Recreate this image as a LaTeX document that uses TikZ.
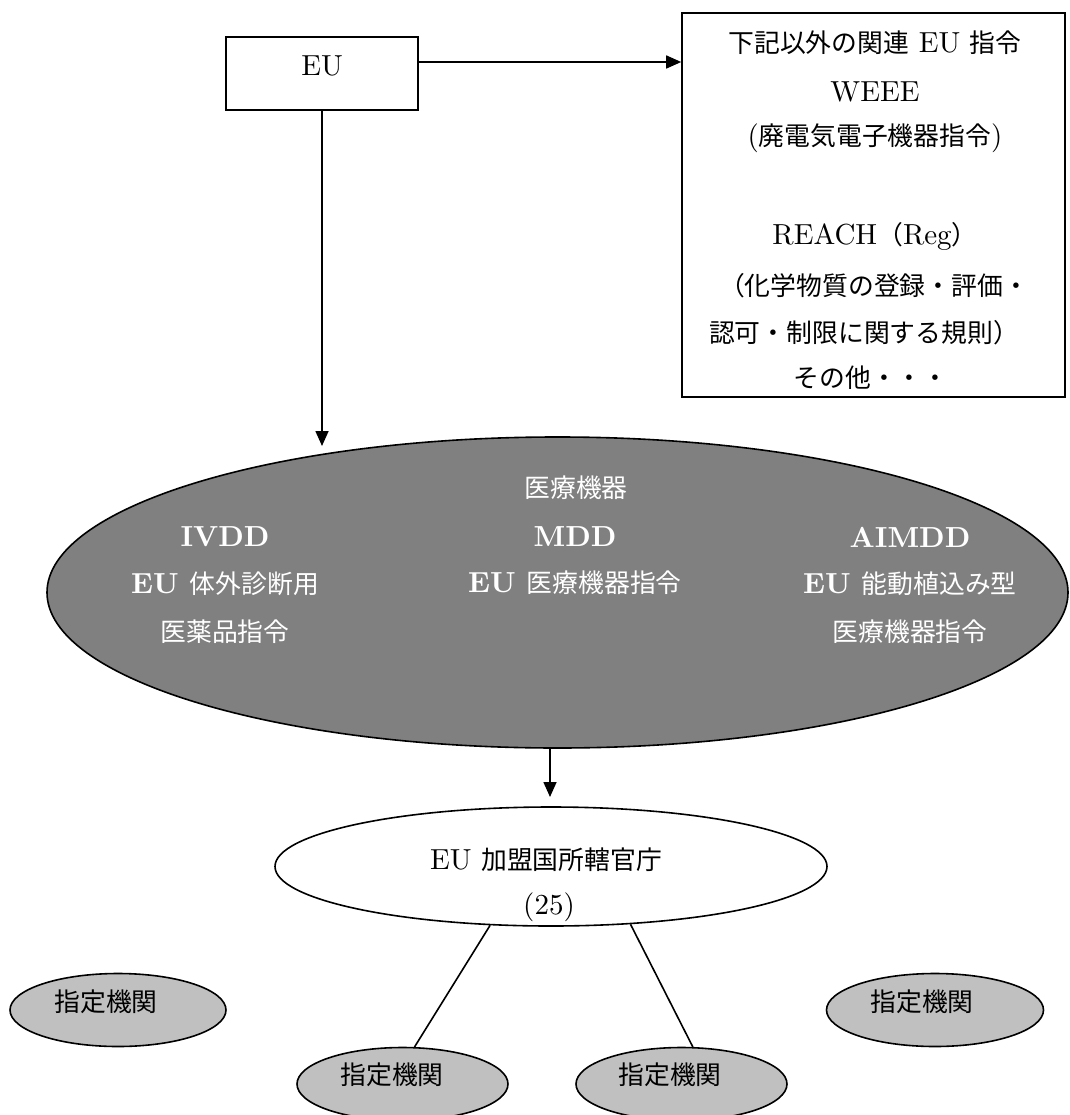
\documentclass[tikz,border=0pt]{standalone}
\usepackage{fontspec}
\setmainfont{lmroman10-regular}[Extension=.otf, BoldFont=lmroman10-bold]
\usetikzlibrary{shapes.geometric,arrows.meta}
\newfontfamily\jp{Noto Sans CJK JP}[Scale=0.89]
\newcommand\J[1]{{\jp\mdseries #1}}
\definecolor{dkgray}{HTML}{808080}
\definecolor{ltgray}{HTML}{C0C0C0}
\begin{document}
\begin{tikzpicture}[x=1pt,y=-1pt,
  font=\fontsize{29}{34}\selectfont,
  box/.style={draw, line width=1.6pt, inner sep=0pt},
  ell/.style={draw, ellipse, line width=1.6pt, inner sep=0pt},
  arr/.style={line width=1.6pt, -{Triangle[length=15pt,width=13pt]}},
  link/.style={line width=1.6pt},
  wt/.style={text=white, font=\fontsize{29}{34}\selectfont\bfseries},
  lbl/.style={inner sep=0pt}]
\useasboundingbox (0,0) rectangle (1069,1115);
\clip (0,0) rectangle (1069,1115);

% EU box
\node[box, minimum width=192pt, minimum height=73pt] (eu) at (322,73.5) {};
\node[lbl] (eut) at (322,66) {EU};

% right box
\node[box, minimum width=383pt, minimum height=384pt] (rb) at (873.5,205) {};
\node[lbl] (r1) at (875,43) {\J{下記以外の関連} EU \J{指令}};
\node[lbl] (r2) at (875,92) {WEEE};
\node[lbl] (r3) at (875,138) {(\J{廃電気電子機器指令})};
\node[lbl] (r4) at (875,236) {REACH\J{（}Reg\J{）}};
\node[lbl] (r5) at (874,286) {\J{（化学物質の登録・評価・}};
\node[lbl] (r6) at (864,333) {\J{認可・制限に関する規則）}};
\node[lbl] (r7) at (871,378) {\J{その他・・・}};

% big ellipse
\node[ell, fill=dkgray, minimum width=1021pt, minimum height=311pt] (med) at (557.5,592.5) {};
\node[lbl, wt] (m0) at (576,488) {\J{医療機器}};
\node[lbl, wt] (m1) at (225,537) {IVDD};
\node[lbl, wt] (m2) at (575,537) {MDD};
\node[lbl, wt] (m3) at (910,537) {AIMDD};
\node[lbl, wt] (m4) at (225,584) {EU \J{体外診断用}};
\node[lbl, wt] (m5) at (575,583) {EU \J{医療機器指令}};
\node[lbl, wt] (m6) at (910,584) {EU \J{能動植込み型}};
\node[lbl, wt] (m7) at (225,632) {\J{医薬品指令}};
\node[lbl, wt] (m8) at (910,632) {\J{医療機器指令}};

% competent authority ellipse
\node[ell, fill=white, minimum width=552pt, minimum height=119pt] (ca) at (551,866.5) {};
\node[lbl] (ca1) at (546,860) {EU \J{加盟国所轄官庁}};
\node[lbl] (ca2) at (549,907) {(25)};

% notified bodies
\node[ell, fill=ltgray, minimum width=216pt, minimum height=73pt] (n1) at (118,1010) {};
\node[lbl] (n1t) at (106,1002) {\J{指定機関}};
\node[ell, fill=ltgray, minimum width=211pt, minimum height=73pt] (n2) at (402.5,1084) {};
\node[lbl] (n2t) at (392,1075) {\J{指定機関}};
\node[ell, fill=ltgray, minimum width=211pt, minimum height=73pt] (n3) at (681.5,1084) {};
\node[lbl] (n3t) at (670,1075) {\J{指定機関}};
\node[ell, fill=ltgray, minimum width=217pt, minimum height=73pt] (n4) at (935,1010) {};
\node[lbl] (n4t) at (922,1002) {\J{指定機関}};

% connectors
\coordinate (h) at (0,62);
\draw[arr] (eu.east |- h) -- (rb.west |- h);
\coordinate (t1) at (322,446);
\draw[arr] (eu.south) -- (t1);
\coordinate (t2) at (550,797);
\draw[arr] (med.south -| t2) -- (t2);
\draw[link] (ca.224) -- (n2.72);
\draw[link] (ca.324) -- (n3.73);
\end{tikzpicture}
\end{document}
